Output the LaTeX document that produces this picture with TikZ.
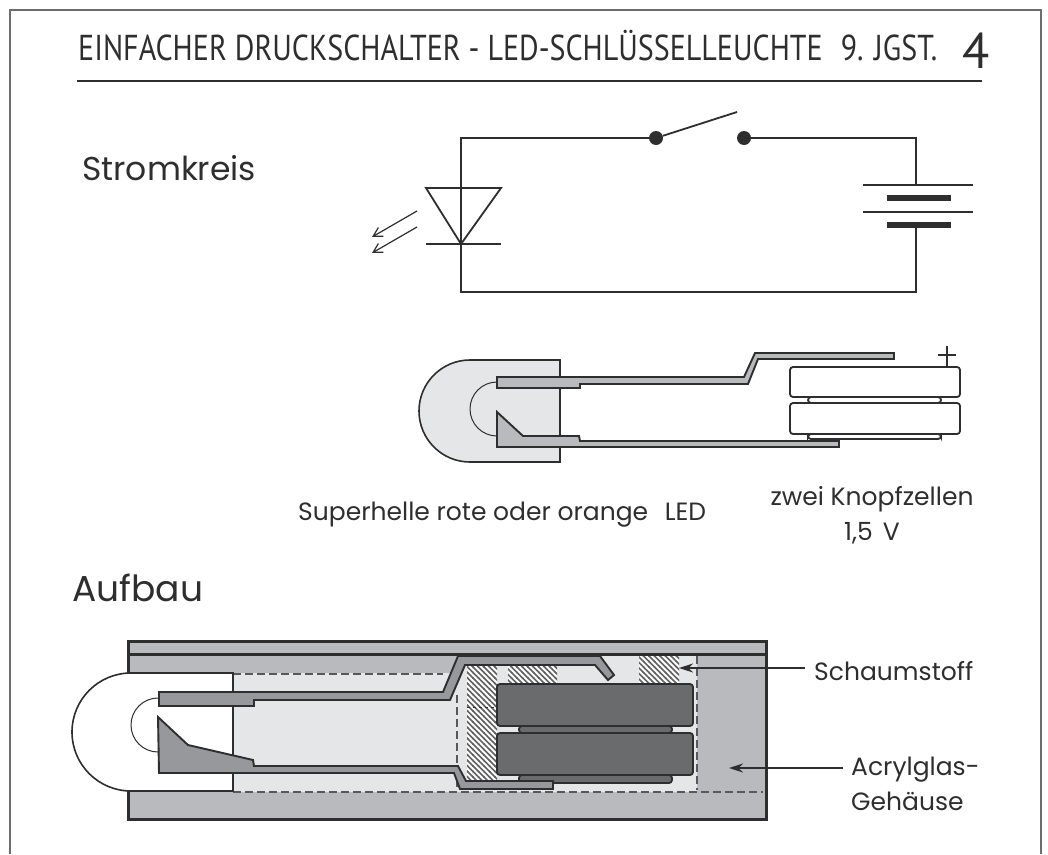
\documentclass[tikz,border=0pt]{standalone}
\usepackage{fontspec}
\setmainfont{Poppins}
\newfontfamily\titlefont{PT Sans}
\usetikzlibrary{arrows.meta,patterns}
\definecolor{ink}{HTML}{2E2E2E}
\definecolor{glas}{HTML}{B9BABD}
\definecolor{pale}{HTML}{E5E6E8}
\definecolor{metal}{HTML}{97989B}
\definecolor{zelle}{HTML}{6A6B6D}
\pgfdeclarepatternformonly{foamlines}{\pgfqpoint{-1pt}{-1pt}}{\pgfqpoint{7pt}{7pt}}{\pgfqpoint{5.5pt}{5.5pt}}{
	\pgfsetlinewidth{1.7pt}
	\pgfpathmoveto{\pgfqpoint{-0.5pt}{6pt}}
	\pgfpathlineto{\pgfqpoint{6pt}{-0.5pt}}
	\pgfusepath{stroke}
}
\tikzset{
	wire/.style={draw=ink,line width=1.8pt},
	dot/.style={circle,inner sep=0pt,minimum size=14pt,fill=ink},
	plate/.style={draw=ink,line width=1.8pt},
	thickplate/.style={draw=ink,line width=6.5pt},
	beam/.style={draw=ink,line width=1.2pt,-{Straight Barb[length=9pt,width=10pt]}},
	txt/.style={anchor=base west,inner sep=0pt,text=ink,font=\fontsize{25}{25}\selectfont},
	hd/.style={anchor=base west,inner sep=0pt,text=ink,font=\fontsize{#1}{#1}\selectfont},
	lead/.style={draw=ink,line width=1.9pt,fill=#1,line join=miter},
	cell/.style={draw=ink,line width=1.8pt,fill=#1,rounded corners=3pt},
	guide/.style={draw=ink!80,line width=1.6pt,dash pattern=on 8pt off 4pt},
	foam/.style={pattern=foamlines,pattern color=ink!75},
	pointer/.style={draw=ink,line width=1.4pt,-{Stealth[length=14pt,width=9pt]}}
}
\begin{document}
\begin{tikzpicture}[x=1pt,y=-1pt]
	\useasboundingbox[fill=white] (0,0) rectangle (1048,854);

	\draw [draw=ink!70,line width=1.5pt] (10,854) -- (10,10) -- (1041,10) -- (1041,854);
	\node [anchor=base west,inner sep=0pt,text=ink,font=\titlefont\fontsize{36}{36}\selectfont] (title) at (78,60) {\scalebox{0.834}[1]{EINFACHER DRUCKSCHALTER - LED-SCHLÜSSELLEUCHTE\hspace{0.6em}9. JGST.}};
	\node [anchor=base west,inner sep=0pt,text=ink,font=\titlefont\fontsize{50}{50}\selectfont] (page) at (962,68) {4};
	\draw [draw=ink,line width=1.4pt] (77,81) -- (982,81);

	\node [hd=33] (stromkreis) at (82,180) {Stromkreis};
	\node [hd=36] (aufbau) at (72,601) {Aufbau};

	\coordinate (tl) at (461,138);
	\coordinate (tr) at (916,138);
	\coordinate (br) at (916,292);
	\coordinate (bl) at (461,292);
	\coordinate (bat1) at (916,185);
	\coordinate (bat2) at (916,225);
	\coordinate (apex) at (461,244);
	\coordinate (lean) at (737,112);
	\node [dot] (swa) at (656,138) {};
	\node [dot] (swb) at (744,138) {};
	\draw [wire] (swa) -- (tl) -- (bl) -- (br) -- (bat2);
	\draw [wire] (swb) -- (tr) -- (bat1);
	\draw [wire] (swa) -- (lean);
	\draw [wire,line join=miter] (426,188) -- (501,188) -- (apex) -- cycle;
	\draw [plate] (426,244) -- (501,244);
	\draw [beam] (417,211) -- (372,237);
	\draw [beam] (417,227) -- (372,253);
	\draw [plate] (863,185) -- (973,185);
	\draw [thickplate] (887,198) -- (951,198);
	\draw [plate] (863,212) -- (973,212);
	\draw [thickplate] (887,225) -- (951,225);

	\draw [draw=ink,line width=1.6pt,fill=pale] (470,360) arc[start angle=270,end angle=90,radius=51] -- (560,462) -- (560,360) -- cycle;
	\draw [draw=ink,line width=1pt] (497,382) arc[start angle=270,end angle=90,radius=27];
	\draw [lead=glas] (497,377) -- (744,377) -- (755,353) -- (894,353) -- (894,359) -- (758,359) -- (748,384) -- (580,384) -- (580,388) -- (497,388) -- cycle;
	\draw [lead=glas] (497,412) -- (523,436) -- (579,436) -- (580,441) -- (839,441) -- (839,447) -- (497,447) -- cycle;
	\draw [cell=white] (808,397) rectangle (941,403);
	\draw [cell=white] (808,434) rectangle (941,439);
	\draw [cell=white] (790,367) rectangle (960,397);
	\draw [cell=white] (790,403) rectangle (960,434);
	\draw [lead=glas] (780,441) -- (839,441) -- (839,447) -- (780,447);
	\draw [plate] (947,346) -- (947,366);
	\draw [plate] (938,355) -- (956,355);

	\node [txt] (ledtext) at (298,520) {Superhelle rote oder orange\hspace{0.4em} LED};
	\node [txt,anchor=base] (zelltext) at (872,505) {zwei Knopfzellen};
	\node [txt,anchor=base] (volttext) at (872,540) {1,5\hspace{0.4em}V};

	\draw [draw=ink,line width=3pt,fill=glas] (128,641) rectangle (766,819);
	\fill [pale] (233,673) -- (450,673) -- (458,654) -- (697,654) -- (697,792) -- (233,792) -- cycle;
	\fill [white] (467,665) rectangle (497,782);
	\fill [white] (508,665) rectangle (557,683);
	\fill [white] (639,656) rectangle (679,683);
	\fill [foam] (467,665) rectangle (497,782);
	\fill [foam] (508,665) rectangle (557,683);
	\fill [foam] (639,656) rectangle (679,683);
	\draw [draw=ink,line width=1pt,dashed] (467,707) -- (495,707);
	\draw [cell=zelle] (519,726) rectangle (672,733);
	\draw [cell=zelle] (519,775) rectangle (672,783);
	\draw [cell=zelle] (497,684) rectangle (693,726);
	\draw [cell=zelle] (497,733) rectangle (693,775);
	\draw [guide] (233,674) -- (443,674);
	\draw [guide] (457,695) -- (457,788);
	\draw [guide] (233,792) -- (763,792);
	\draw [guide] (697,656) -- (697,790);
	\draw [draw=ink,line width=1.6pt,fill=white] (233,673) -- (131,673) arc[start angle=270,end angle=90,radius=59] -- (233,791) -- cycle;
	\draw [draw=ink,line width=1pt] (158,698) arc[start angle=270,end angle=90,radius=27];
	\draw [lead=metal] (159,692) -- (443,692) -- (458,656) -- (600,656) -- (614,675) -- (608,680) -- (595,665) -- (465,665) -- (450,700) -- (254,700) -- (254,706) -- (159,706) -- cycle;
	\draw [lead=metal] (158,717) -- (188,745) -- (253,760) -- (254,766) -- (458,766) -- (466,781) -- (553,781) -- (553,789) -- (460,789) -- (454,773) -- (159,773) -- cycle;
	\draw [draw=ink,line width=3pt,fill=glas] (128,641) rectangle (766,654);

	\node [txt] (schaum) at (814,680) {Schaumstoff};
	\node [txt] (acryl) at (851,775) {Acrylglas-};
	\node [txt] (gehaeuse) at (851,810) {Gehäuse};
	\coordinate (schaumend) at (805,668);
	\coordinate (schaumtip) at (679,668);
	\coordinate (acrylend) at (843,768);
	\coordinate (acryltip) at (729,768);
	\draw [pointer] (schaumend) -- (schaumtip);
	\draw [pointer] (acrylend) -- (acryltip);
\end{tikzpicture}
\end{document}
